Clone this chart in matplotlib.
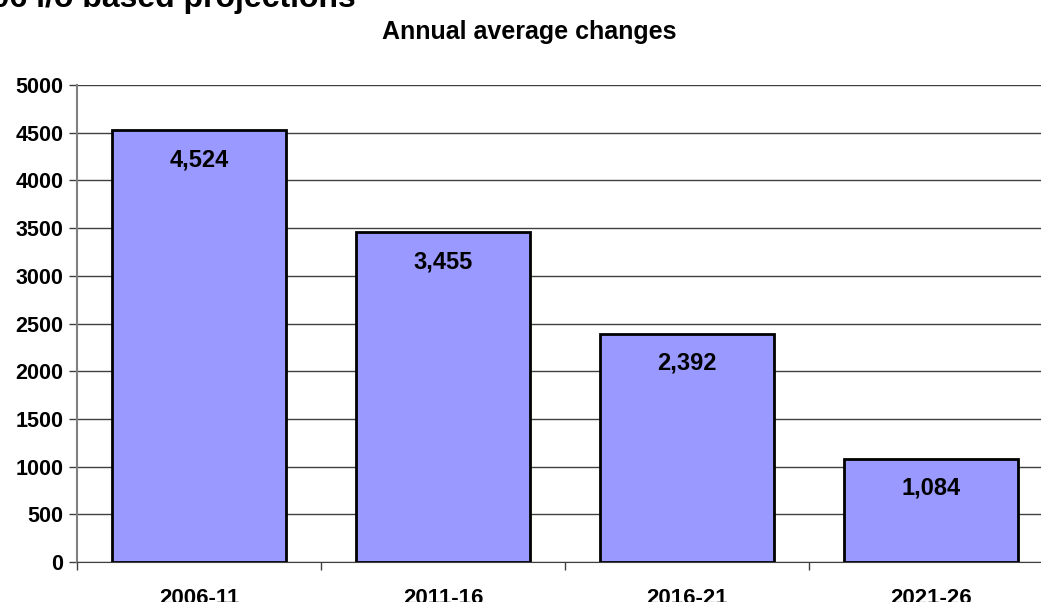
import matplotlib
matplotlib.use('Agg')
import matplotlib.pyplot as plt
import numpy as np

periods = ['2006-11', '2011-16', '2016-21', '2021-26']
changes = [4524, 3455, 2392, 1084]

plt.rcParams['font.family'] = ['Liberation Sans', 'DejaVu Sans']
plt.rcParams['font.weight'] = 'bold'

fig = plt.figure(figsize=(10.41, 6.02), dpi=100)
ax = fig.add_axes([0.074, 0.0664, 0.9375, 0.7924])

x = np.arange(len(periods))
ax.bar(x, changes, width=0.717, color='#9999FF', edgecolor='black',
       linewidth=2, zorder=3)
for xi, v in zip(x, changes):
    ax.annotate(f'{v:,}', (xi, v), xytext=(0, -13), textcoords='offset points',
                ha='center', va='top', fontsize=17, fontweight='bold', zorder=4)

ax.set_xlim(-0.5, len(periods) - 0.5)
ax.set_ylim(0, 5000)
ax.set_yticks(np.arange(0, 5001, 500))
ax.tick_params(axis='y', labelsize=15.5, length=6, width=1, color='#404040', pad=4)
ax.set_xticks(x)
ax.set_xticklabels(periods, fontsize=16, fontweight='bold')
ax.tick_params(axis='x', length=0, pad=19)
ax.set_xticks(np.arange(0, len(periods)) - 0.5, minor=True)
ax.tick_params(axis='x', which='minor', length=6, width=1, color='#404040')
ax.grid(axis='y', color='#404040', linewidth=1, zorder=0)

for s in ['top', 'right']:
    ax.spines[s].set_visible(False)
ax.spines['left'].set_color('#808080')
ax.spines['left'].set_linewidth(1.5)
ax.spines['bottom'].set_color('#404040')

fig.text(0.508, 0.947, 'Annual average changes', ha='center', va='center',
         fontsize=18, fontweight='bold')
fig.text(-0.042, 0.988, '2006 i/o based projections', ha='left', va='baseline',
         fontsize=23, fontweight='bold')

fig.savefig('out.png', dpi=100)
